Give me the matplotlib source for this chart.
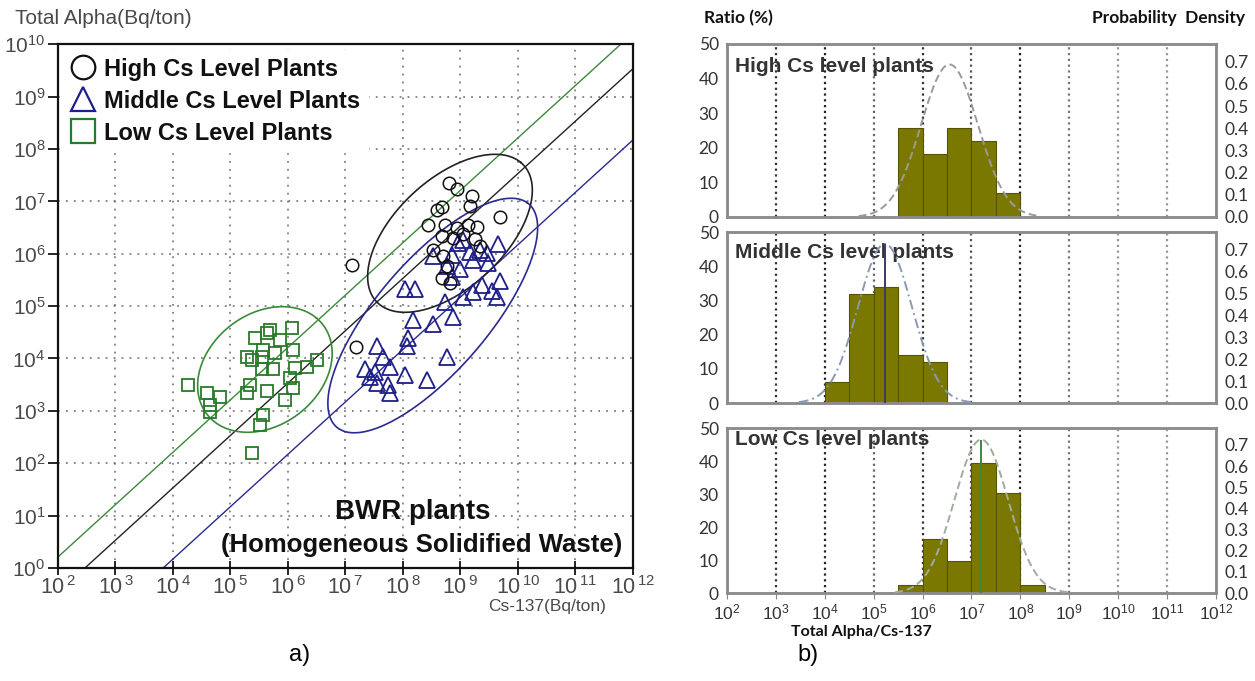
import numpy as np
import matplotlib
matplotlib.use("Agg")
import matplotlib.pyplot as plt
from matplotlib.lines import Line2D

plt.rcParams['font.family'] = ['Liberation Sans', 'DejaVu Sans']
plt.rcParams['mathtext.fontset'] = 'custom'
plt.rcParams['mathtext.rm'] = 'Liberation Sans'
plt.rcParams['mathtext.it'] = 'Liberation Sans:italic'
plt.rcParams['mathtext.bf'] = 'Liberation Sans:bold'

# ---------------- scatter data (log10 Cs-137, log10 total alpha), Bq/ton
high_log_cs = [8.80, 8.94, 9.20, 9.17, 8.59, 8.68, 9.69, 8.43, 8.73, 8.94, 9.13, 9.29,
               8.68, 8.87, 9.04, 9.25, 9.34, 8.52, 8.70, 8.68, 8.82, 7.11, 7.18, 8.77]
high_log_alpha = [7.36, 7.23, 7.11, 6.92, 6.84, 6.90, 6.71, 6.54, 6.54, 6.50, 6.54, 6.52,
                  6.33, 6.31, 6.37, 6.28, 6.14, 6.08, 5.95, 5.54, 5.45, 5.79, 4.21, 5.76]

mid_log_cs = [9.04, 8.52, 8.85, 9.17, 9.46, 9.65, 8.77, 8.99, 9.22, 9.48, 8.85, 9.69, 8.03,
              8.21, 9.37, 9.55, 9.22, 9.04, 8.73, 9.63, 8.87, 8.17, 8.52, 8.09, 8.07, 7.55,
              7.65, 8.77, 7.34, 7.51, 7.77, 8.03, 8.42, 7.55, 7.74, 7.43, 7.77, 9.34, 8.96]
mid_log_alpha = [6.27, 5.95, 5.98, 6.04, 6.02, 6.18, 5.76, 5.70, 5.89, 5.83, 5.56, 5.47, 5.32,
                 5.32, 5.41, 5.28, 5.26, 5.18, 5.07, 5.18, 4.80, 4.74, 4.65, 4.40, 4.23, 4.23,
                 4.02, 4.02, 3.79, 3.75, 3.84, 3.69, 3.59, 3.54, 3.50, 3.65, 3.35, 6.08, 6.21]

low_log_cs = [6.07, 5.69, 5.63, 5.43, 5.86, 6.09, 5.57, 5.77, 5.29, 5.55, 5.37, 6.50, 6.33,
              6.12, 5.74, 5.55, 6.03, 4.26, 5.34, 6.09, 4.59, 4.82, 5.29, 5.63, 5.95, 4.64,
              4.64, 5.57, 5.51, 5.37]
low_log_alpha = [4.59, 4.55, 4.49, 4.40, 4.36, 4.17, 4.17, 4.11, 4.02, 4.03, 3.98, 3.98, 3.84,
                 3.82, 3.80, 3.79, 3.63, 3.50, 3.50, 3.44, 3.35, 3.27, 3.35, 3.37, 3.21, 3.12,
                 2.98, 2.93, 2.73, 2.20]

# constant-ratio lines: log10(Cs-137 / total alpha)
ratio_line_offsets = [1.79, 2.47, 3.83]
ratio_line_colors = ['#3a8a3a', '#222222', '#2a2a90']

# ellipses in log10 space: centre x, centre y, semi-major, semi-minor, angle (deg)
ellipse_high = (8.82, 6.39, 1.83, 0.99, 47.7)
ellipse_mid = (8.52, 4.82, 2.71, 1.00, 52.7)
ellipse_low = (5.60, 3.79, 1.33, 1.02, 47.7)

# ---------------- histogram data (log10 of Total Alpha/Cs-137 ratio bins), %
high_edges = [5.5, 6.0, 6.5, 7.0, 7.5, 8.0]
high_ratio = [25.7, 18.2, 25.7, 22.0, 6.9]
mid_edges = [4.0, 4.5, 5.0, 5.5, 6.0, 6.5]
mid_ratio = [6.0, 32.0, 34.0, 14.0, 12.0]
low_edges = [5.5, 6.0, 6.5, 7.0, 7.5, 8.0, 8.5]
low_ratio = [2.4, 16.3, 9.8, 39.4, 30.3, 2.4]

# fitted log-normal parameters (mean, sigma in decades)
high_fit = (6.55, 0.58)
mid_fit = (5.23, 0.55)
low_fit = (7.20, 0.55)

decades = list(range(2, 13))

fig = plt.figure(figsize=(12.55, 6.81), dpi=100)

# ================= a) scatter plot =================
ax = fig.add_axes([0.0462, 0.166, 0.458, 0.769])
ax.set_xscale('log')
ax.set_yscale('log')
ax.set_xlim(1e2, 1e12)
ax.set_ylim(1e0, 1e10)

ax.set_xticks([10.0 ** d for d in decades])
ax.set_xticklabels([r'$10^{\,%d}$' % d for d in decades])
ax.set_yticks([10.0 ** d for d in range(0, 11)])
ax.set_yticklabels([r'$10^{%d}$' % d for d in range(0, 11)])
ax.minorticks_off()
ax.tick_params(axis='x', direction='inout', length=10, width=1.2, labelsize=15.5,
               labelcolor='#4a4a4a', pad=1)
ax.tick_params(axis='y', direction='out', length=7, width=1.2, labelsize=15,
               labelcolor='#4a4a4a', pad=2)
ax.grid(True, which='major', color='#6a6a6a', linestyle=(0, (1.2, 4)), linewidth=1.1)
for s in ax.spines.values():
    s.set_linewidth(1.6)
    s.set_color('#111111')

xs = np.logspace(2, 12, 200)
for off, col in zip(ratio_line_offsets, ratio_line_colors):
    ax.plot(xs, xs / 10.0 ** off, color=col, lw=1.0)


def ellipse_points(cx, cy, a, b, ang):
    t = np.linspace(0, 2 * np.pi, 300)
    th = np.deg2rad(ang)
    ex = cx + a * np.cos(t) * np.cos(th) - b * np.sin(t) * np.sin(th)
    ey = cy + a * np.cos(t) * np.sin(th) + b * np.sin(t) * np.cos(th)
    return 10.0 ** ex, 10.0 ** ey


for el, col in [(ellipse_high, '#222222'), (ellipse_mid, '#2a2a90'), (ellipse_low, '#3a8a3a')]:
    ex, ey = ellipse_points(*el)
    ax.plot(ex, ey, color=col, lw=1.2)

ax.plot(10.0 ** np.array(low_log_cs), 10.0 ** np.array(low_log_alpha), 's', ms=9,
        mfc='none', mec='#2a7a2a', mew=1.3, ls='none')
ax.plot(10.0 ** np.array(mid_log_cs), 10.0 ** np.array(mid_log_alpha), '^', ms=11,
        mfc='none', mec='#1e1e88', mew=1.3, ls='none')
ax.plot(10.0 ** np.array(high_log_cs), 10.0 ** np.array(high_log_alpha), 'o', ms=9,
        mfc='none', mec='#111111', mew=1.1, ls='none')

handles = [
    Line2D([], [], marker='o', ms=17, mfc='none', mec='#111111', mew=1.6, ls='none'),
    Line2D([], [], marker='^', ms=17, mfc='none', mec='#1e1e88', mew=1.6, ls='none'),
    Line2D([], [], marker='s', ms=17, mfc='none', mec='#2a7a2a', mew=1.6, ls='none'),
]
leg = ax.legend(handles, ['High Cs Level Plants', 'Middle Cs Level Plants', 'Low Cs Level Plants'],
                loc='upper left', frameon=True, fancybox=False, framealpha=1.0,
                edgecolor='white', facecolor='white', borderaxespad=0.25,
                handlelength=1.0, handletextpad=0.4, labelspacing=0.38, borderpad=0.32,
                prop={'weight': 'bold', 'size': 17})
for t in leg.get_texts():
    t.set_color('#111111')

ax.text(0.617, 0.107, 'BWR plants', transform=ax.transAxes, ha='center', va='center',
        fontsize=20, fontweight='bold', color='#111111')
ax.text(0.633, 0.044, '(Homogeneous Solidified Waste)', transform=ax.transAxes,
        ha='center', va='center', fontsize=18.5, fontweight='bold', color='#111111')

fig.text(0.012, 0.973, 'Total Alpha(Bq/ton)', ha='left', va='center', fontsize=15,
         color='#4a4a4a')
fig.text(0.436, 0.109, 'Cs-137(Bq/ton)', ha='center', va='center', fontsize=12.5,
         color='#4a4a4a')
fig.text(0.239, 0.038, 'a)', ha='center', va='center', fontsize=17)

# ================= b) histograms =================
panel_rects = [
    [0.5793, 0.6814, 0.3896, 0.2540],
    [0.5793, 0.4082, 0.3896, 0.2511],
    [0.5793, 0.1292, 0.3896, 0.2423],
]
panels = [
    ('High Cs level plants', 0.867, high_edges, high_ratio, high_fit, '#9a9a9a', (0, (4, 2)), None),
    ('Middle Cs level plants', 0.883, mid_edges, mid_ratio, mid_fit, '#8a98b8', (0, (5, 2, 1, 2)), '#3a3a6a'),
    ('Low Cs level plants', 0.93, low_edges, low_ratio, low_fit, '#a0aca0', (0, (4, 2)), '#3a8a3a'),
]
grid_colors = ['#333333', '#222222', '#666666', '#333333', '#555555', '#222222',
               '#777777', '#999999', '#999999']
rfont = ['Lato', 'DejaVu Sans']

for i, (rect, (title, ty, edges, ratio, fit, ccol, cls, vcol)) in enumerate(zip(panel_rects, panels)):
    axh = fig.add_axes(rect)
    axh.set_xscale('log')
    axh.set_xlim(1e2, 1e12)
    axh.set_ylim(0, 50)
    for d, gc in zip(decades[1:-1], grid_colors):
        axh.axvline(10.0 ** d, color=gc, linestyle=(0, (1, 1.6)), lw=1.6, zorder=0)
    le = np.array(edges)
    axh.bar(10.0 ** le[:-1], ratio, width=10.0 ** le[1:] - 10.0 ** le[:-1], align='edge',
            color='#7a7800', edgecolor='#555500', linewidth=0.8, zorder=2)
    axh.set_yticks([0, 10, 20, 30, 40, 50])
    axh.tick_params(axis='y', length=0, labelsize=12.5, labelcolor='#333333', pad=6)
    for lab in axh.get_yticklabels():
        lab.set_family(rfont)
    axh.minorticks_off()
    if i == 2:
        axh.set_xticks([10.0 ** d for d in decades])
        axh.set_xticklabels([r'$10^{%d}$' % d for d in decades])
        axh.tick_params(axis='x', length=4, color='#888888', labelsize=12.5,
                        labelcolor='#333333', pad=3)
    else:
        axh.set_xticks([])
    for s in axh.spines.values():
        s.set_color('#8c8c8c')
        s.set_linewidth(1.8)
    axh.text(0.016, ty, title, transform=axh.transAxes, ha='left', va='center',
             fontsize=15, fontweight='bold', color='#333333', zorder=5)

    axd = axh.twinx()
    axd.set_ylim(0, 0.78)
    axd.set_yticks([0.0, 0.1, 0.2, 0.3, 0.4, 0.5, 0.6, 0.7])
    axd.set_yticklabels(['%.1f' % v for v in [0.0, 0.1, 0.2, 0.3, 0.4, 0.5, 0.6, 0.7]])
    axd.tick_params(axis='y', length=0, labelsize=12.5, labelcolor='#333333', pad=6)
    for lab in axd.get_yticklabels():
        lab.set_family(rfont)
    for s in axd.spines.values():
        s.set_color('#8c8c8c')
        s.set_linewidth(1.8)
    mu, sig = fit
    lx = np.linspace(mu - 3.2 * sig, mu + 3.2 * sig, 300)
    pdf = np.exp(-0.5 * ((lx - mu) / sig) ** 2) / (sig * np.sqrt(2 * np.pi))
    axd.plot(10.0 ** lx, pdf, color=ccol, linestyle=cls, lw=1.4, zorder=3)
    if vcol is not None:
        axd.vlines(10.0 ** mu, 0, 1 / (sig * np.sqrt(2 * np.pi)), color=vcol, lw=1.4, zorder=3)

fig.text(0.561, 0.974, 'Ratio (%)', ha='left', va='center', fontsize=12.5, fontweight='bold',
         family=rfont, color='#111111')
fig.text(0.992, 0.974, 'Probability  Density', ha='right', va='center', fontsize=12.5,
         fontweight='bold', family=rfont, color='#111111')
fig.text(0.686, 0.072, 'Total Alpha/Cs-137', ha='center', va='center', fontsize=11.5,
         fontweight='bold', family=rfont, color='#111111')
fig.text(0.644, 0.038, 'b)', ha='center', va='center', fontsize=17)

fig.savefig('out.png', dpi=100, facecolor='white')
